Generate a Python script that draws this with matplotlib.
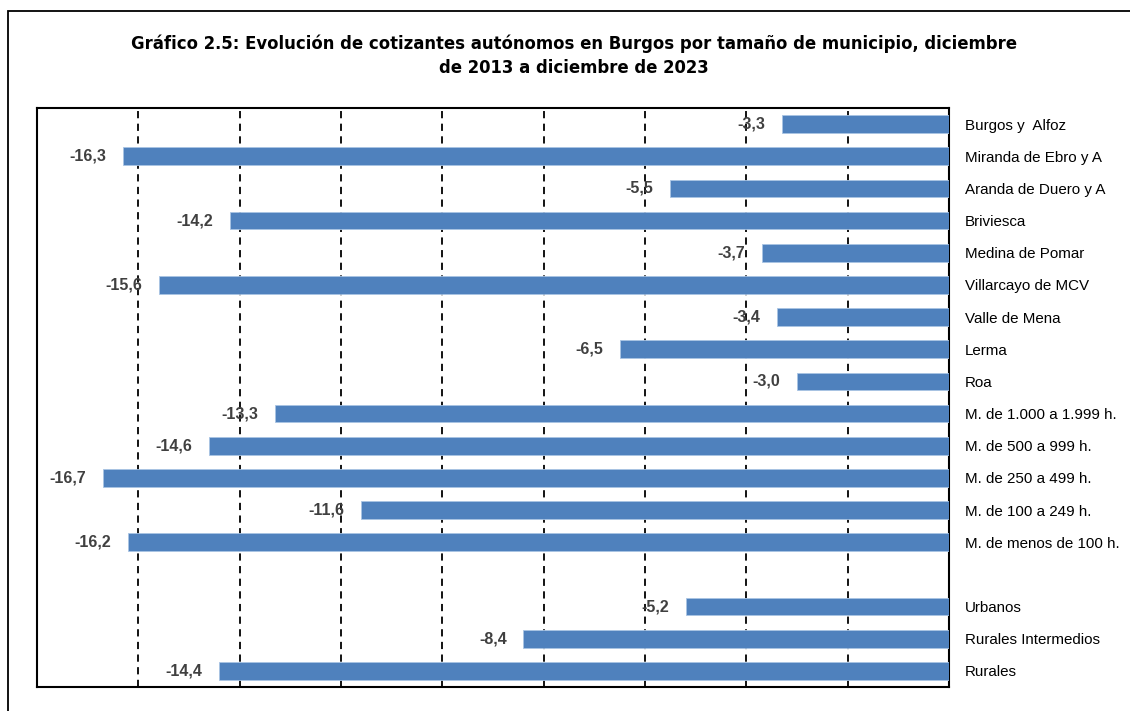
import matplotlib.pyplot as plt
from matplotlib.patches import Rectangle
import numpy as np

# Datos
categorias = ["Burgos y  Alfoz", "Miranda de Ebro y A", "Aranda de Duero y A", "Briviesca",
              "Medina de Pomar", "Villarcayo de MCV", "Valle de Mena", "Lerma", "Roa",
              "M. de 1.000 a 1.999 h.", "M. de 500 a 999 h.", "M. de 250 a 499 h.",
              "M. de 100 a 249 h.", "M. de menos de 100 h.", "",
              "Urbanos", "Rurales Intermedios", "Rurales"]
valores = [-3.3, -16.3, -5.5, -14.2, -3.7, -15.6, -3.4, -6.5, -3.0,
           -13.3, -14.6, -16.7, -11.6, -16.2, np.nan,
           -5.2, -8.4, -14.4]

titulo = ("Gráfico 2.5: Evolución de cotizantes autónomos en Burgos por tamaño de municipio, diciembre\n"
          "de 2013 a diciembre de 2023")

fig = plt.figure(figsize=(11.3, 7.11), dpi=100)
ax = fig.add_axes([37 / 1130, 1 - 687 / 711, (949 - 37) / 1130, (687 - 108) / 711])

# Marco exterior
fig.patches.append(Rectangle((8 / 1130, -0.05), 1.1, 1 - 11 / 711 + 0.05, transform=fig.transFigure,
                             fill=False, edgecolor='black', linewidth=1.3))

y = np.arange(len(categorias))
ax.barh(y, valores, height=0.55, color='#4F81BD', edgecolor='#A9C4E4', linewidth=0.6, zorder=3)

for yi, v in zip(y, valores):
    if np.isnan(v):
        continue
    ax.annotate(f"{v:.1f}".replace('.', ','), xy=(v, yi), xytext=(-12, 0),
                textcoords='offset points', ha='right', va='center',
                fontsize=11.5, fontweight='bold', color='#404040',
                family=['Liberation Sans', 'DejaVu Sans'], zorder=4)

ax.set_xlim(-18, 0)
ax.set_ylim(len(categorias) - 0.5, -0.5)
ax.set_xticks(np.arange(-16, 0, 2))
ax.tick_params(axis='x', length=0, labelbottom=False)
ax.grid(axis='x', linestyle=(0, (4, 3)), color='black', linewidth=1.3, zorder=1)

ax.yaxis.tick_right()
ax.set_yticks(y)
ax.set_yticklabels(categorias, family=['Liberation Sans', 'DejaVu Sans'], fontsize=10.9)
ax.tick_params(axis='y', length=0, pad=11.5)

for s in ax.spines.values():
    s.set_linewidth(1.5)

fig.text(0.508, 1 - 56 / 711, titulo, ha='center', va='center', fontsize=11.9,
         fontweight='bold', family=['DejaVu Sans'], linespacing=1.45)

fig.savefig('out.png', dpi=100)
